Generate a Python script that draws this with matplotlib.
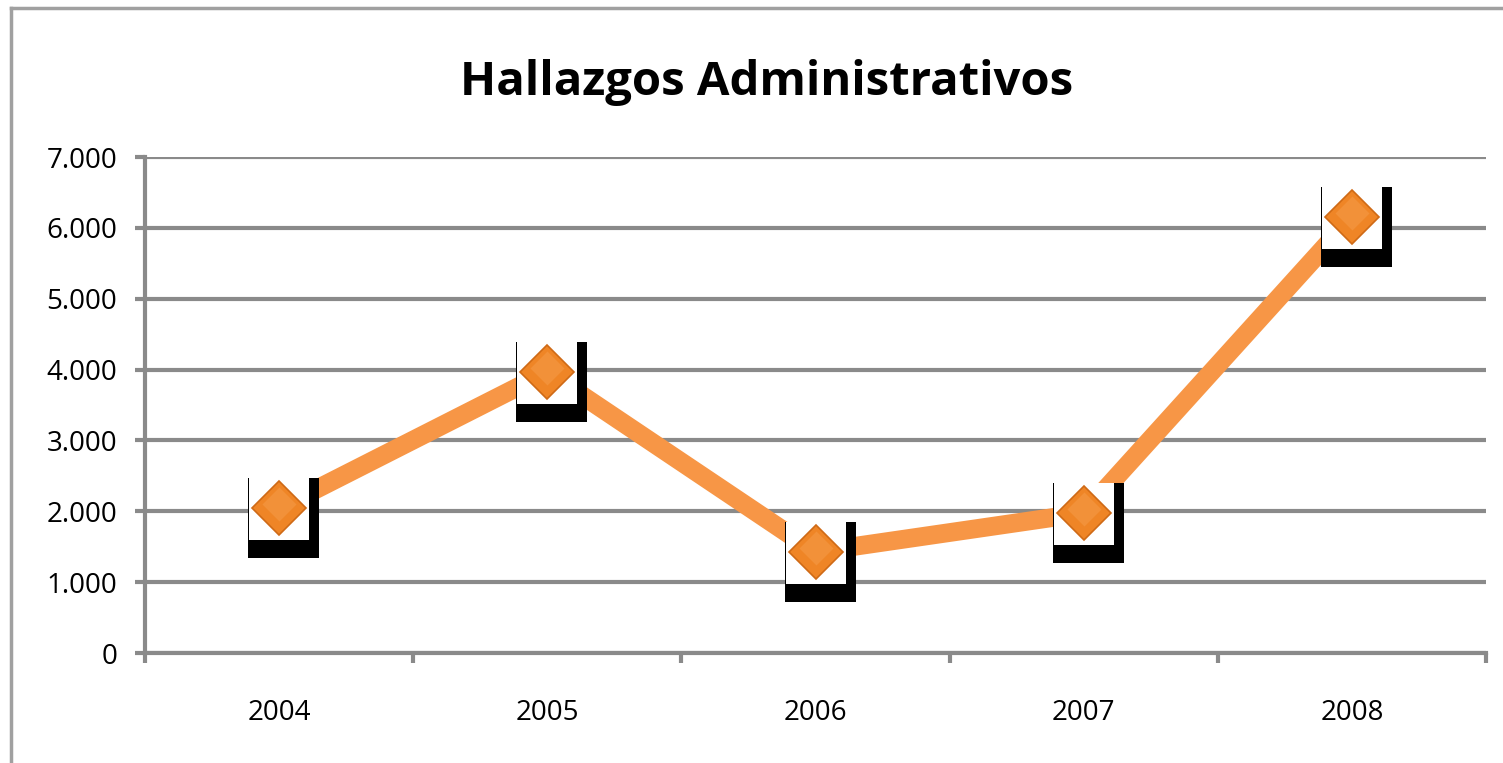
import matplotlib
matplotlib.use('Agg')
import matplotlib.pyplot as plt
import matplotlib.transforms as mtransforms
from matplotlib.patches import Rectangle
from matplotlib.lines import Line2D
from matplotlib.ticker import FixedLocator, FuncFormatter

# Data
years = ['2004', '2005', '2006', '2007', '2008']
hallazgos = [2045, 3965, 1425, 1975, 6155]
y_ticks = [0, 1000, 2000, 3000, 4000, 5000, 6000, 7000]

grid_gray = '#8a8a8a'
line_orange = '#f79646'

fig = plt.figure(figsize=(15.03, 7.63), dpi=100)
ax = fig.add_axes([145 / 1503, 1 - 653 / 763, (1486 - 145) / 1503, (653 - 157) / 763])

x = list(range(len(years)))
ax.set_xlim(-0.5, len(years) - 0.5)
ax.set_ylim(0, 7000)

# line under the label boxes, markers on top
ax.plot(x, hallazgos, color=line_orange, lw=13.5, solid_capstyle='butt', zorder=3)

# the odd data-label boxes: black shadow with white box on top (sizes in pixels)
for xi, yi in zip(x, hallazgos):
    tr = mtransforms.IdentityTransform() + mtransforms.ScaledTranslation(xi, yi, ax.transData)
    ax.add_patch(Rectangle((-31, -50), 71, 80, facecolor='black', edgecolor='none',
                           transform=tr, zorder=4, clip_on=False))
    ax.add_patch(Rectangle((-30, -32), 60, 62, facecolor='white', edgecolor='none',
                           transform=tr, zorder=5, clip_on=False))

ax.plot(x, hallazgos, ls='none', marker='D', ms=27, mfc='#ef8526', mec='#cf6a16',
        mew=1.2, zorder=6)
ax.plot(x, [v + 60 for v in hallazgos], ls='none', marker='D', ms=17, mfc='#f6a052',
        mec='none', alpha=0.45, zorder=7)

# axes styling
for s in ['top', 'right']:
    ax.spines[s].set_visible(False)
for s in ['left', 'bottom']:
    ax.spines[s].set_color(grid_gray)
    ax.spines[s].set_linewidth(3)

ax.yaxis.set_major_locator(FixedLocator(y_ticks))
ax.yaxis.set_major_formatter(FuncFormatter(lambda v, p: f'{int(v):,}'.replace(',', '.')))
ax.grid(axis='y', color=grid_gray, lw=3, zorder=1)
ax.set_axisbelow(True)

ax.xaxis.set_major_locator(FixedLocator([i - 0.5 for i in range(len(years) + 1)]))
ax.xaxis.set_major_formatter(FuncFormatter(lambda v, p: ''))
ax.xaxis.set_minor_locator(FixedLocator(x))
ax.set_xticklabels(years, minor=True)

ax.tick_params(axis='both', which='major', length=7, width=3, color=grid_gray)
ax.tick_params(axis='y', which='major', pad=13, labelsize=20)
ax.tick_params(axis='x', which='minor', length=0, pad=33, labelsize=20)
for lab in ax.get_yticklabels() + ax.get_xticklabels(minor=True):
    lab.set_family('Open Sans')

fig.text(767 / 1503, 1 - 95 / 763, 'Hallazgos Administrativos', ha='center', va='baseline',
         fontsize=34, fontweight='bold', family='Open Sans')

# outer chart frame (left and top edges only visible)
fig.add_artist(Line2D([11 / 1503, 11 / 1503], [0, 1 - 8 / 763], color='#a0a0a0', lw=2.5,
                      transform=fig.transFigure))
fig.add_artist(Line2D([11 / 1503, 1], [1 - 8 / 763, 1 - 8 / 763], color='#a0a0a0', lw=2.5,
                      transform=fig.transFigure))

fig.savefig('out.png', dpi=100)
